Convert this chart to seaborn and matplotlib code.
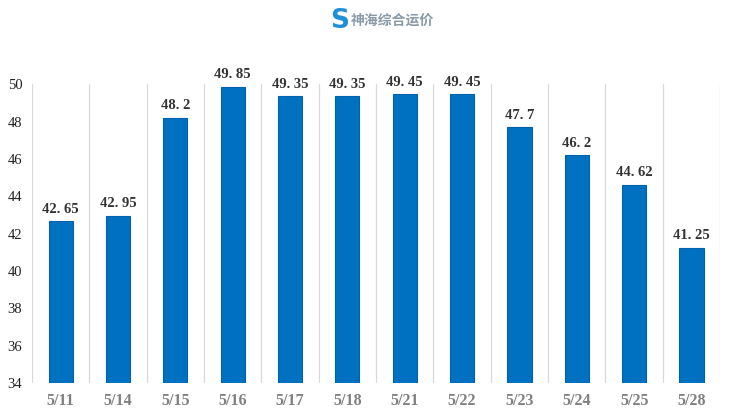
import numpy as np
import pandas as pd
import matplotlib
matplotlib.use("Agg")
import matplotlib.pyplot as plt
import seaborn as sns

dates = ["5/11", "5/14", "5/15", "5/16", "5/17", "5/18", "5/21", "5/22",
         "5/23", "5/24", "5/25", "5/28"]
prices = [42.65, 42.95, 48.2, 49.85, 49.35, 49.35, 49.45, 49.45,
          47.7, 46.2, 44.62, 41.25]
labels = ["42. 65", "42. 95", "48. 2", "49. 85", "49. 35", "49. 35", "49. 45",
          "49. 45", "47. 7", "46. 2", "44. 62", "41. 25"]
yticks = [34, 36, 38, 40, 42, 44, 46, 48, 50]

df = pd.DataFrame({"date": dates, "price": prices})

sns.set_style("white")
plt.rcParams["font.family"] = ["Liberation Serif", "DejaVu Serif"]

fig = plt.figure(figsize=(7.36, 4.18), dpi=100)
ax = fig.add_axes([0.0435, 0.0837, 0.935, 0.715])

sns.barplot(data=df, x="date", y="price", color="#0070C0", saturation=1,
            width=0.42, edgecolor="#0062ad", linewidth=0.8, ax=ax, zorder=3)

ax.set_ylim(34, 50)
ax.set_xlim(-0.5, len(dates) - 0.5)
ax.set_yticks(yticks)
ax.set_xlabel("")
ax.set_ylabel("")

# vertical separators between categories
ax.set_xticks(np.arange(-0.5, len(dates), 1), minor=True)
ax.grid(which="minor", axis="x", color="#d9d9d9", linewidth=0.9, zorder=0)
ax.tick_params(which="both", length=0)
ax.tick_params(axis="y", labelsize=10.5, labelcolor="#222222", pad=7)
ax.tick_params(axis="x", labelsize=11.5, labelcolor="#7f7f7f", pad=7)
for t in ax.get_xticklabels():
    t.set_fontweight("bold")

for s in ax.spines.values():
    s.set_visible(False)

for i, (v, lab) in enumerate(zip(prices, labels)):
    ax.text(i, v + 0.3, lab, ha="center", va="bottom", fontsize=10.5,
            fontweight="bold", color="#333333")

# header logo text
fig.text(0.462, 0.950, "S", fontsize=19, fontweight="bold", color="#1f8fd8",
         ha="center", va="center", family=["DejaVu Sans"])
fig.text(0.477, 0.950, "神海综合运价", fontsize=10, color="#8a9aa8",
         ha="left", va="center", family=["Noto Sans CJK SC", "DejaVu Sans"],
         fontweight="bold")

fig.savefig("out.png", dpi=100, facecolor="white")
